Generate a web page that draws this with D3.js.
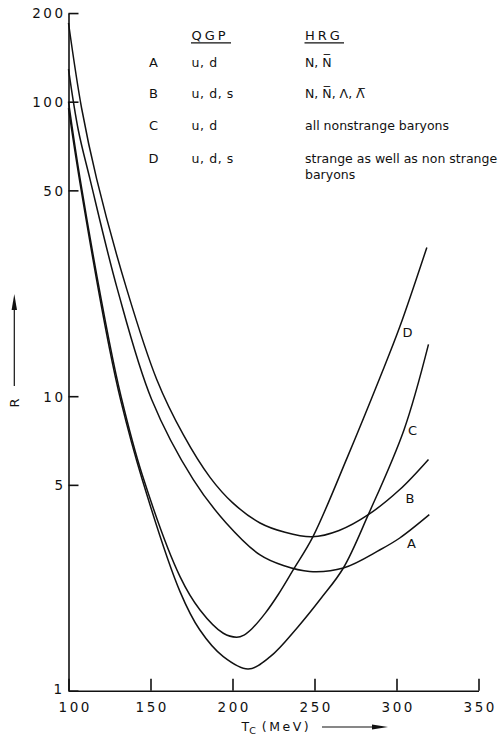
<!DOCTYPE html>
<html><head><meta charset="utf-8">
<script src="https://cdn.jsdelivr.net/npm/d3@7"></script>
<style>body{margin:0;background:#fff}svg{display:block}text{font-family:"DejaVu Sans",sans-serif;fill:#111}</style>
</head><body><svg id="c" width="500" height="740"></svg>
<script>
// ---- data ----
const xTicks = [100, 150, 200, 250, 300, 350];
const yTicks = [1, 5, 10, 50, 100, 200];
// [Tc (MeV), R]
const curveA = [[100,129],[106,80],[113.1,54.6],[129.8,23.1],[150.7,9.75],[176.1,5.21],[196,3.72],[216.8,2.89],[231,2.66],[247,2.54],[267.6,2.61],[290,3.01],[302,3.3],[320,3.96]];
const curveB = [[100,185],[108,95],[117.2,54.6],[135.5,23.1],[153.8,11.4],[170,7.4],[186.3,5.3],[200,4.35],[216.8,3.71],[232,3.45],[248.5,3.33],[265,3.5],[282.8,3.96],[302,4.82],[319.5,6.1]];
const curveC = [[100,95],[107,53],[125,14.5],[132,9.6],[145,5.2],[168,2.17],[180,1.61],[194.4,1.305],[209.6,1.185],[223,1.305],[240,1.65],[254,2.06],[267.6,2.61],[282.8,3.96],[304.6,7.7],[319.5,15]];
const curveD = [[100,100],[107,55],[125,15.2],[132,10],[145,5.4],[168,2.44],[180.2,1.88],[194.4,1.567],[202.5,1.52],[207,1.545],[212,1.627],[220,1.834],[228,2.126],[237,2.572],[249,3.33],[270,6.2],[290,11.6],[302,17.2],[318.5,32]];
const curveNames = ["A","B","C","D"];
const legendQGP = ["u, d","u, d, s","u, d","u, d, s"];
const legendHRG = [["N, N\u0305"],["N, N\u0305, \u039B, \u039B\u0305"],["all nonstrange baryons"],["strange as well as non strange","baryons"]];
const headers = ["QGP","HRG"];

// ---- layout ----
const svg = d3.select("#c");
const x = d3.scaleLinear().domain([100,350]).range([68.5,478.5]);
const y = d3.scaleLog().domain([1,200]).range([690.7, 690.7 - 294.5*Math.log10(200)]);

// axes
const ls = 2.5;
const yAxis = svg.append("g").attr("transform","translate(68.5,0)")
  .call(d3.axisLeft(y).tickValues(yTicks).tickSizeInner(-10).tickSizeOuter(0).tickPadding(5).tickFormat(d3.format("d")));
const xAxis = svg.append("g").attr("transform","translate(0,690.7)")
  .call(d3.axisBottom(x).tickValues(xTicks).tickSizeInner(-12).tickSizeOuter(0).tickPadding(6).tickFormat(d3.format("d")));
[yAxis,xAxis].forEach(g=>{
  g.select(".domain").attr("stroke","#111").attr("stroke-width",1.6);
  g.selectAll(".tick line").attr("stroke","#111").attr("stroke-width",1.6);
  g.selectAll(".tick text").attr("fill","#111").style("font-family","DejaVu Sans")
    .style("font-size","13.5px").style("letter-spacing",ls+"px");
});
yAxis.selectAll(".tick text").attr("x",-(5.5-ls)).attr("dy","0.36em");
yAxis.selectAll(".tick text").filter(d=>d===1).attr("y",-2).attr("x",-(6.5-ls));
xAxis.selectAll(".tick text").attr("y",12).attr("dy","0.71em").attr("x",ls/2);
xAxis.selectAll(".tick text").filter(d=>d===100).attr("x",ls/2+5);

// curves
const line = d3.line().x(d=>x(d[0])).y(d=>y(d[1])).curve(d3.curveCatmullRom.alpha(0.5));
const curves = [curveA,curveB,curveC,curveD];
svg.append("g").selectAll("path").data(curves).join("path")
  .attr("d",line).attr("fill","none").attr("stroke","#111").attr("stroke-width",1.5);

// curve labels
const labelPos = [[407,548],[405.5,503],[408,435],[402.5,337]];
svg.append("g").selectAll("text").data(curveNames).join("text")
  .attr("x",(d,i)=>labelPos[i][0]).attr("y",(d,i)=>labelPos[i][1])
  .style("font-size","13px").text(d=>d);

// legend
const rowY = [66.5,98,130,163];
const lg = svg.append("g");
lg.append("text").attr("x",191.5).attr("y",40).style("font-size","13px").style("letter-spacing","3px").text(headers[0]);
lg.append("text").attr("x",305).attr("y",40).style("font-size","13px").style("letter-spacing","3px").text(headers[1]);
lg.append("line").attr("x1",191).attr("x2",231).attr("y1",42.8).attr("y2",42.8).attr("stroke","#111").attr("stroke-width",1.2);
lg.append("line").attr("x1",304.5).attr("x2",344).attr("y1",42.8).attr("y2",42.8).attr("stroke","#111").attr("stroke-width",1.2);
curveNames.forEach((n,i)=>{
  lg.append("text").attr("x",153.5).attr("y",rowY[i]).attr("text-anchor","middle").style("font-size","13px").text(n);
  lg.append("text").attr("x",191.5).attr("y",rowY[i]).style("font-size","12.5px").style("letter-spacing","0.6px").text(legendQGP[i]);
  legendHRG[i].forEach((t,j)=>{
    lg.append("text").attr("x",305).attr("y",rowY[i]+j*15.5).style("font-size","12.5px").text(t);
  });
});

// y label with arrow
svg.append("line").attr("x1",14.3).attr("x2",14.3).attr("y1",386).attr("y2",305).attr("stroke","#111").attr("stroke-width",1.2);
svg.append("path").attr("d","M14.3,294 L11.6,310 L17,310 Z").attr("fill","#111");
svg.append("text").attr("transform","translate(18.5,403) rotate(-90)").attr("text-anchor","middle")
  .style("font-size","13px").text("R");

// x label with arrow
const xl = svg.append("text").attr("x",241.5).attr("y",731).style("font-size","12.5px");
xl.append("tspan").text("T");
xl.append("tspan").attr("dy",3).style("font-size","9.5px").text("C");
xl.append("tspan").attr("dy",-3).attr("dx",6).style("letter-spacing","2.5px").text("(MeV)");
svg.append("line").attr("x1",322).attr("x2",375).attr("y1",727).attr("y2",727).attr("stroke","#111").attr("stroke-width",1.1);
svg.append("path").attr("d","M388,727 L372,724.6 L372,729.4 Z").attr("fill","#111");
</script></body></html>
